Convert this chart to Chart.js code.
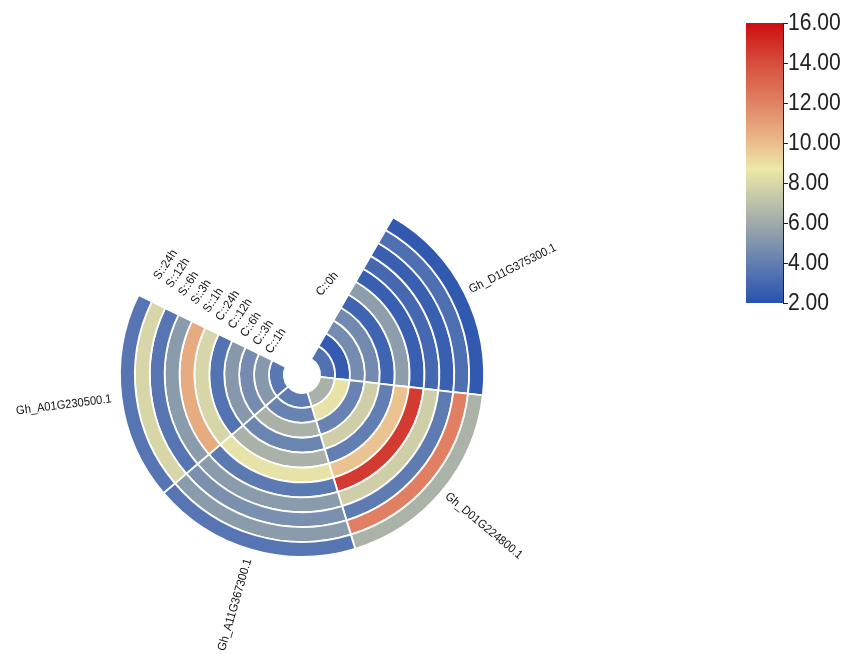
<!DOCTYPE html>
<html>
<head>
<meta charset="utf-8">
<title>Circular heatmap</title>
<script src="https://cdn.jsdelivr.net/npm/chart.js@4.4.1/dist/chart.umd.min.js"></script>
<style>
  html, body { margin: 0; padding: 0; background: #fff; }
  #wrap { position: relative; width: 846px; height: 654px; }
</style>
</head>
<body>
<div id="wrap"><canvas id="chart"></canvas></div>
<script>
/* global Chart */

// rings, inner -> outer
const samples = ["C::0h", "C::1h", "C::3h", "C::6h", "C::12h", "C::24h", "S::1h", "S::3h", "S::6h", "S::12h", "S::24h"];
// sectors, clockwise
const genes = ["Gh_D11G375300.1", "Gh_D01G224800.1", "Gh_A11G367300.1", "Gh_A01G230500.1"];

// expression per sample (same order as samples)
const exprD11G375300 = [3.4, 2.4, 4.6, 4.5, 2.8, 5.4, 2.6, 3.0, 2.6, 3.3, 2.3];
const exprD01G224800 = [6.3, 8.5, 4.2, 7.6, 4.0, 9.8, 14.6, 7.6, 3.9, 12.1, 6.4];
const exprA11G367300 = [3.9, 4.2, 6.3, 4.3, 6.3, 8.5, 3.8, 5.3, 4.8, 5.3, 3.6];
const exprA01G230500 = [3.7, 5.2, 4.6, 5.2, 3.5, 7.9, 10.6, 5.3, 3.6, 7.9, 3.6];
const exprByGene = [exprD11G375300, exprD01G224800, exprA11G367300, exprA01G230500];

const scaleMin = 2;
const scaleMax = 16;
const scaleTicks = [2, 4, 6, 8, 10, 12, 14, 16];

const colorStops = [
  [2, [40, 82, 176]],
  [4, [98, 126, 178]],
  [6, [160, 170, 168]],
  [8.7, [237, 232, 168]],
  [10, [234, 188, 140]],
  [12, [225, 130, 100]],
  [14, [214, 78, 62]],
  [16, [204, 14, 16]]
];

function valueColor(v) {
  const x = Math.min(scaleMax, Math.max(scaleMin, v));
  for (let i = 1; i < colorStops.length; i++) {
    const [v1, c1] = colorStops[i];
    const [v0, c0] = colorStops[i - 1];
    if (x <= v1) {
      const t = (x - v0) / (v1 - v0);
      const c = c0.map((k, j) => Math.round(k + (c1[j] - k) * t));
      return `rgb(${c[0]},${c[1]},${c[2]})`;
    }
  }
  const c = colorStops[colorStops.length - 1][1];
  return `rgb(${c[0]},${c[1]},${c[2]})`;
}

const deg = Math.PI / 180;
const labelFont = "12px 'Liberation Sans', Arial, sans-serif";

function drawRotated(ctx, text, x, y, angle, align, squeeze) {
  ctx.save();
  ctx.translate(x, y);
  ctx.rotate(angle);
  ctx.scale(squeeze, 1);
  ctx.textAlign = align;
  ctx.textBaseline = "middle";
  ctx.fillText(text, 0, 0);
  ctx.restore();
}

const circosLabels = {
  id: "circosLabels",
  afterDraw(chart) {
    const ctx = chart.ctx;
    const n = chart.data.datasets.length;
    ctx.save();
    ctx.fillStyle = "#111";
    ctx.font = labelFont;

    // gene names outside the outer ring
    chart.getDatasetMeta(0).data.forEach((arc, i) => {
      const a = (arc.startAngle + arc.endAngle) / 2;
      const flip = Math.cos(a) < 0;
      const r = arc.outerRadius + (flip ? 10 : 6);
      drawRotated(ctx, genes[i], arc.x + r * Math.cos(a), arc.y + r * Math.sin(a),
        flip ? a + Math.PI : a, flip ? "right" : "left", 0.93);
    });

    // sample names past the end of each ring
    for (let d = 0; d < n; d++) {
      const arcs = chart.getDatasetMeta(d).data;
      const label = chart.data.datasets[d].label;
      if (d === n - 1) {
        const first = arcs[0];
        const a = first.startAngle - 18.4 * deg;
        drawRotated(ctx, label, first.x + 82 * Math.cos(a), first.y + 82 * Math.sin(a), -50 * deg, "left", 0.95);
        continue;
      }
      const last = arcs[arcs.length - 1];
      const r = (last.innerRadius + last.outerRadius) / 2;
      const a = last.endAngle + 7.5 * deg;
      drawRotated(ctx, label, last.x + r * Math.cos(a), last.y + r * Math.sin(a), a + Math.PI / 2, "left", 0.95);
    }
    ctx.restore();

    // colour bar
    const bx = 746, by = 23, bw = 37, bh = 280;
    const grad = ctx.createLinearGradient(0, by + bh, 0, by);
    colorStops.forEach(([v]) => grad.addColorStop((v - scaleMin) / (scaleMax - scaleMin), valueColor(v)));
    ctx.save();
    ctx.fillStyle = grad;
    ctx.fillRect(bx, by, bw, bh);
    ctx.strokeStyle = "#222";
    ctx.lineWidth = 1;
    ctx.beginPath();
    ctx.moveTo(bx + bw + 0.5, by);
    ctx.lineTo(bx + bw + 0.5, by + bh);
    scaleTicks.forEach((v) => {
      const y = Math.round(by + bh - (v - scaleMin) / (scaleMax - scaleMin) * bh) + 0.5;
      ctx.moveTo(bx + bw, y);
      ctx.lineTo(bx + bw + 5, y);
    });
    ctx.stroke();
    ctx.fillStyle = "#222";
    ctx.font = "24px 'Liberation Sans', Arial, sans-serif";
    scaleTicks.forEach((v) => {
      const y = by + bh - (v - scaleMin) / (scaleMax - scaleMin) * bh;
      drawRotated(ctx, v.toFixed(2), bx + bw + 5, y, 0, "left", 0.88);
    });
    ctx.restore();
  }
};

// outer ring first for the doughnut
const datasets = samples.map((s, i) => ({
  label: s,
  data: genes.map(() => 1),
  backgroundColor: exprByGene.map((vals) => valueColor(vals[i])),
  borderColor: "#fff",
  borderWidth: 1.8
})).reverse();

new Chart(document.getElementById("chart"), {
  type: "doughnut",
  data: { labels: genes, datasets },
  options: {
    responsive: true,
    maintainAspectRatio: false,
    animation: false,
    rotation: 30,
    circumference: 266,
    radius: 182,
    cutout: "10%",
    layout: { padding: { top: 120, right: 242, bottom: 0, left: 0 } },
    plugins: { legend: { display: false }, tooltip: { enabled: false } }
  },
  plugins: [circosLabels]
});
</script>
</body>
</html>
